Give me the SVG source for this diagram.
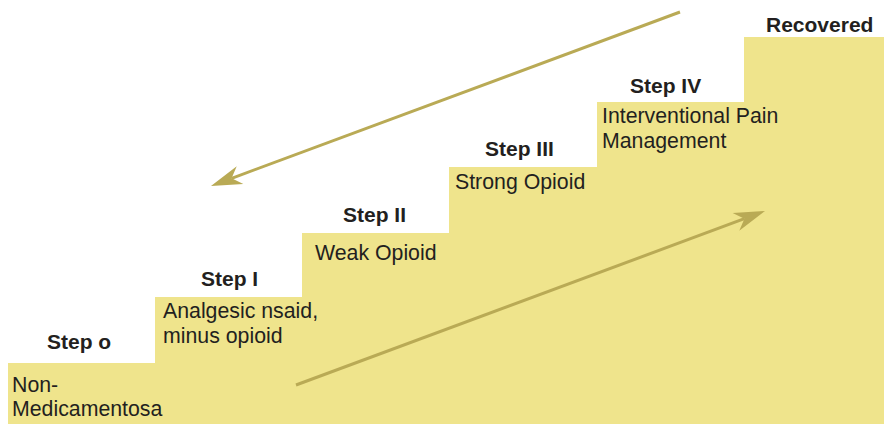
<svg xmlns="http://www.w3.org/2000/svg" width="884" height="424" viewBox="0 0 884 424">
  <style>
    .stairs { fill: #efe48c; stroke: none; }
    .step { font-family: "Liberation Sans", Arial, sans-serif; font-size: 21px; font-weight: bold; fill: #231f20; }
    .desc { font-family: "Liberation Sans", Arial, sans-serif; font-size: 21.3px; fill: #231f20; }
    .arrow { stroke: #b9aa55; stroke-width: 3; fill: none; }
  </style>
  <defs>
    <marker id="head" markerUnits="userSpaceOnUse" viewBox="-32 -10 33 20" refX="-22" refY="0" markerWidth="33" markerHeight="20" orient="auto">
      <path d="M0,0 L-31,-9.5 L-22,0 L-31,9.5 Z" fill="#b9aa55"/>
    </marker>
  </defs>

  <rect width="884" height="424" fill="#ffffff"/>

  <!-- staircase -->
  <path class="stairs" d="M8,424 V363 H155 V297 H302 V233 H449 V167 H597 V102 H744 V37 H884 V424 Z"/>

  <g id="step0">
    <text class="step" x="47" y="349">Step o</text>
    <text class="desc" x="12" y="392">Non-</text>
    <text class="desc" x="12" y="416">Medicamentosa</text>
  </g>
  <g id="step1">
    <text class="step" x="201" y="286">Step I</text>
    <text class="desc" x="163" y="318">Analgesic nsaid,</text>
    <text class="desc" x="163" y="343">minus opioid</text>
  </g>
  <g id="step2">
    <text class="step" x="343" y="222">Step II</text>
    <text class="desc" x="315" y="260">Weak Opioid</text>
  </g>
  <g id="step3">
    <text class="step" x="485" y="156">Step III</text>
    <text class="desc" x="455" y="189">Strong Opioid</text>
  </g>
  <g id="step4">
    <text class="step" x="630" y="93">Step IV</text>
    <text class="desc" x="602" y="123">Interventional Pain</text>
    <text class="desc" x="602" y="148">Management</text>
  </g>
  <g id="recovered">
    <text class="step" x="766" y="32">Recovered</text>
  </g>

  <g id="connectors">
    <line class="arrow" x1="680" y1="12" x2="231.6" y2="178.3" marker-end="url(#head)"/>
    <line class="arrow" x1="296" y1="385" x2="744.4" y2="218.7" marker-end="url(#head)"/>
  </g>
</svg>
